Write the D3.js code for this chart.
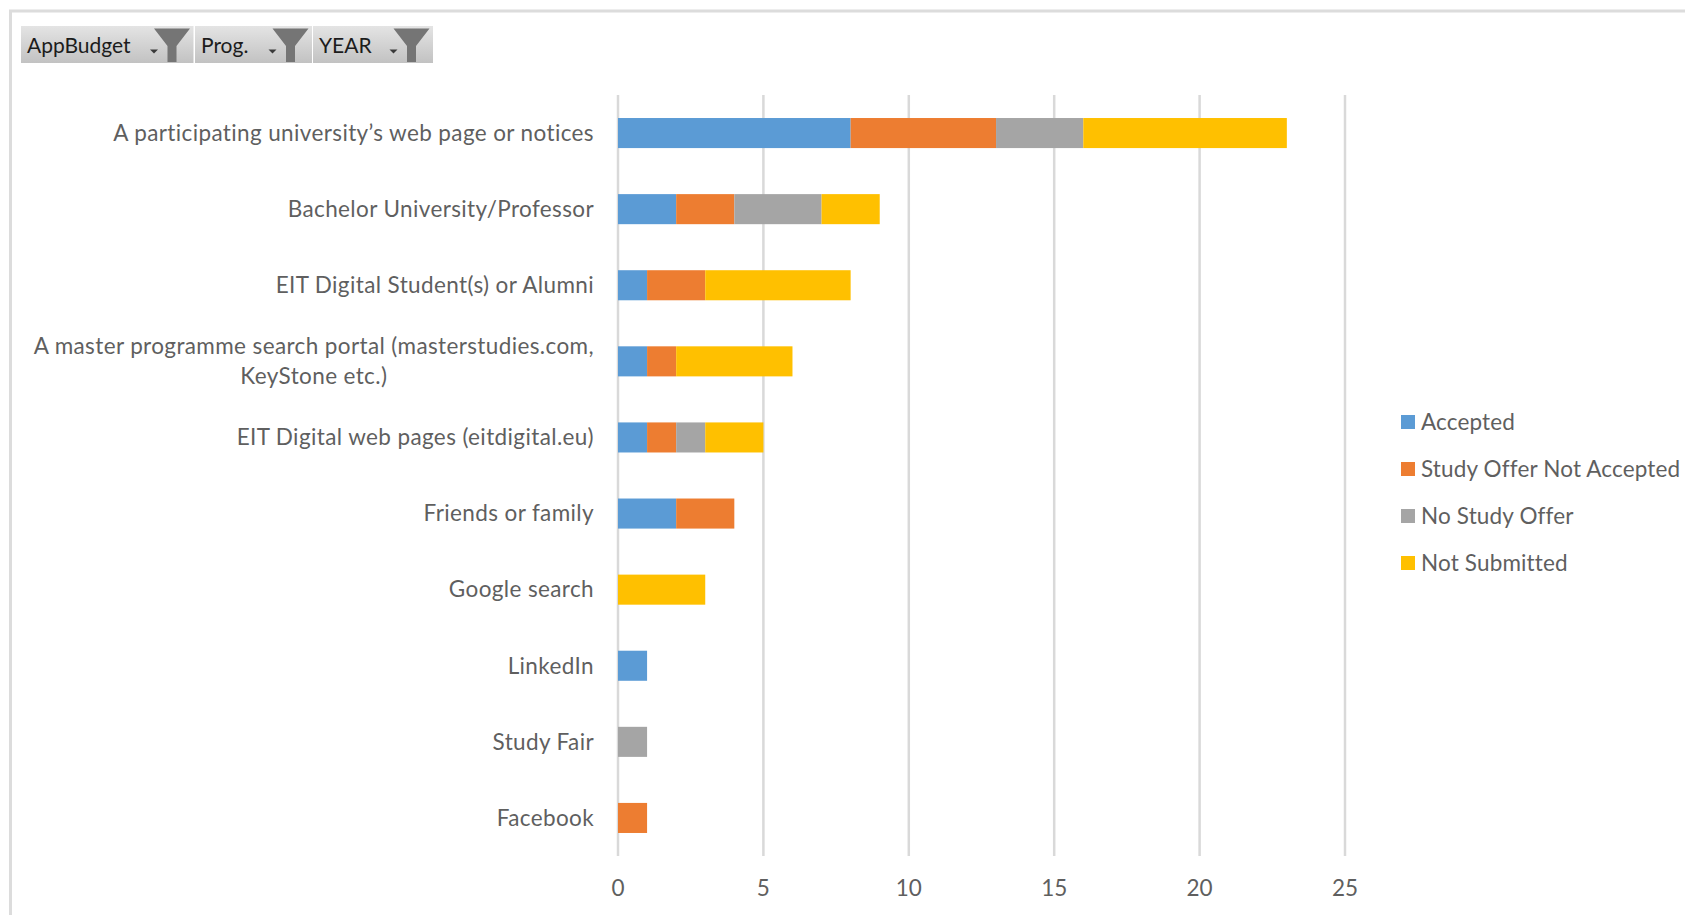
<!DOCTYPE html>
<html>
<head>
<meta charset="utf-8">
<script src="https://cdn.jsdelivr.net/npm/d3@7"></script>
<style>
html,body{margin:0;padding:0;background:#fff;overflow:hidden}
svg{display:block}
text{font-family:Lato,"Open Sans",sans-serif}
</style>
</head>
<body>
<svg id="chart" width="1685" height="915"></svg>
<script>
// Where applicants heard about the programme, by application outcome
const categories = [
  "A participating university’s web page or notices",
  "Bachelor University/Professor",
  "EIT Digital Student(s) or Alumni",
  "A master programme search portal (masterstudies.com,\nKeyStone etc.)",
  "EIT Digital web pages (eitdigital.eu)",
  "Friends or family",
  "Google search",
  "LinkedIn",
  "Study Fair",
  "Facebook"
];
const seriesNames = ["Accepted", "Study Offer Not Accepted", "No Study Offer", "Not Submitted"];
const accepted         = [8, 2, 1, 1, 1, 2, 0, 1, 0, 0];
const offerNotAccepted = [5, 2, 2, 1, 1, 2, 0, 0, 0, 1];
const noStudyOffer     = [3, 3, 0, 0, 1, 0, 0, 0, 1, 0];
const notSubmitted     = [7, 2, 5, 4, 2, 0, 3, 0, 0, 0];
const colors = ["#5b9bd5", "#ed7d31", "#a5a5a5", "#ffc000"];
const xTicks = [0, 5, 10, 15, 20, 25];
const filterLabels = ["AppBudget", "Prog.", "YEAR"];

const svg = d3.select("#chart");

// Outer chart frame, open on the right and bottom
svg.append("path")
  .attr("d", "M10.5,915V11H1685")
  .attr("fill", "none")
  .attr("stroke", "#dcdcdc")
  .attr("stroke-width", 3);

// Scales
const x = d3.scaleLinear().domain([0, 25]).range([618, 1345]);
const y = d3.scaleBand().domain(categories).range([95, 856]).paddingInner(0.605).paddingOuter(0.3025);

// Vertical gridlines
svg.append("g").selectAll("line").data(xTicks).join("line")
  .attr("x1", d => x(d)).attr("x2", d => x(d))
  .attr("y1", 95).attr("y2", 856)
  .attr("stroke", "#d9d9d9").attr("stroke-width", 2.5);

// Stacked bars
const rows = categories.map((c, i) => ({
  category: c,
  [seriesNames[0]]: accepted[i],
  [seriesNames[1]]: offerNotAccepted[i],
  [seriesNames[2]]: noStudyOffer[i],
  [seriesNames[3]]: notSubmitted[i]
}));
const stacked = d3.stack().keys(seriesNames)(rows);

svg.append("g").selectAll("g").data(stacked).join("g")
  .attr("fill", (d, i) => colors[i])
  .selectAll("rect").data(d => d.filter(s => s[1] > s[0])).join("rect")
  .attr("x", d => x(d[0]))
  .attr("width", d => x(d[1]) - x(d[0]))
  .attr("y", d => y(d.data.category))
  .attr("height", y.bandwidth());

// Category labels, right aligned; a wrapped name has its second line centred under the first
const labelGroup = svg.append("g")
  .attr("font-size", 22.5).attr("fill", "#5f5f5f").attr("text-anchor", "end")
  .attr("letter-spacing", 0.38);
categories.forEach(c => {
  const lines = c.split("\n");
  const cy = y(c) + y.bandwidth() / 2 + 1;
  if (lines.length === 1) {
    labelGroup.append("text").attr("x", 594).attr("y", cy).attr("dy", "0.3em").text(c);
  } else {
    const first = labelGroup.append("text").attr("x", 594).attr("y", cy - 15).attr("dy", "0.3em").text(lines[0]);
    const mid = 594 - first.node().getComputedTextLength() / 2;
    labelGroup.append("text").attr("text-anchor", "middle").attr("x", mid).attr("y", cy + 15)
      .attr("dy", "0.3em").text(lines[1]);
  }
});

// Value axis labels
svg.append("g").attr("font-size", 22.5).attr("fill", "#5f5f5f").attr("text-anchor", "middle")
  .selectAll("text").data(xTicks).join("text")
  .attr("x", d => x(d)).attr("y", 896).text(d => d);

// Legend
const legendY = d3.scalePoint().domain(seriesNames).range([422, 563]);
const legend = svg.append("g").selectAll("g").data(seriesNames).join("g")
  .attr("transform", d => `translate(1401,${legendY(d)})`);
legend.append("rect").attr("y", -7).attr("width", 14).attr("height", 14)
  .attr("fill", (d, i) => colors[i]);
legend.append("text").attr("x", 20).attr("y", 1).attr("dy", "0.33em")
  .attr("font-size", 22.5).attr("letter-spacing", 0.15).attr("fill", "#5f5f5f").text(d => d);

// Report filter buttons
const grad = svg.append("defs").append("linearGradient")
  .attr("id", "btn").attr("x1", 0).attr("x2", 0).attr("y1", 0).attr("y2", 1);
grad.append("stop").attr("offset", 0).attr("stop-color", "#e4e4e4");
grad.append("stop").attr("offset", 1).attr("stop-color", "#c2c2c2");

const buttonSpans = [[21, 193.5], [195, 312], [313, 433]];
const buttons = svg.append("g").selectAll("g").data(filterLabels).join("g");
buttons.each(function (label, i) {
  const [x0, x1] = buttonSpans[i];
  const g = d3.select(this);
  g.append("rect").attr("x", x0).attr("y", 26).attr("width", x1 - x0).attr("height", 37)
    .attr("fill", "url(#btn)");
  g.append("text").attr("x", x0 + 6).attr("y", 53)
    .attr("font-size", 21).attr("fill", "#1c1c1c").text(label);
  // Drop-down caret
  g.append("path").attr("d", `M${x1 - 43.5},49.5h8l-4,4z`).attr("fill", "#3a3a3a");
  // Funnel icon
  const r = x1 - 3.5;
  g.append("path")
    .attr("d", `M${r - 36},28.5H${r}L${r - 13.5},46V62H${r - 22.5}V46Z`)
    .attr("fill", "#757575");
});
</script>
</body>
</html>
